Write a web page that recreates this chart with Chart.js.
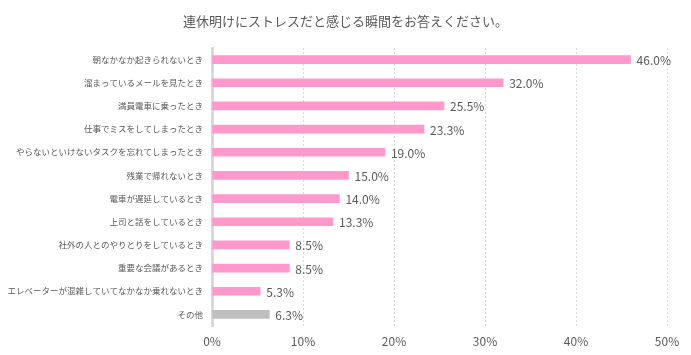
<!DOCTYPE html>
<html><head><meta charset="utf-8">
<script src="https://cdn.jsdelivr.net/npm/chart.js@4/dist/chart.umd.min.js"></script>
<style>html,body{margin:0;padding:0;background:#fff}#wrap{width:691px;height:355px}</style>
</head><body><div id="wrap"><canvas id="c" width="691" height="355"></canvas></div>
<script>
const categories = ["朝なかなか起きられないとき","溜まっているメールを見たとき","満員電車に乗ったとき","仕事でミスをしてしまったとき","やらないといけないタスクを忘れてしまったとき","残業で帰れないとき","電車が遅延しているとき","上司と話をしているとき","社外の人とのやりとりをしているとき","重要な会議があるとき","エレベーターが混雑していてなかなか乗れないとき","その他"];
const values = [46.0,32.0,25.5,23.3,19.0,15.0,14.0,13.3,8.5,8.5,5.3,6.3];
const barColors = ["#ff99cc","#ff99cc","#ff99cc","#ff99cc","#ff99cc","#ff99cc","#ff99cc","#ff99cc","#ff99cc","#ff99cc","#ff99cc","#bfbfbf"];
const titleText = "連休明けにストレスだと感じる瞬間をお答えください。";
const FONT = "'Noto Sans CJK JP', 'Noto Sans', sans-serif";

const labelPlugin = {
  id: 'valLabels',
  afterDatasetsDraw(chart) {
    const ctx = chart.ctx;
    const meta = chart.getDatasetMeta(0);
    ctx.save();
    ctx.font = "12px " + FONT;
    ctx.fillStyle = "#595959";
    ctx.textBaseline = "middle";
    ctx.textAlign = "left";
    meta.data.forEach((bar, i) => {
      ctx.fillText(values[i].toFixed(1) + "%", bar.x + 6, bar.y + 1);
    });
    ctx.restore();
  }
};

new Chart(document.getElementById('c'), {
  type: 'bar',
  data: { labels: categories, datasets: [{ data: values, backgroundColor: barColors, barThickness: 8, borderWidth: 0 }] },
  options: {
    indexAxis: 'y',
    responsive: false,
    animation: false,
    layout: { padding: 0 },
    plugins: {
      legend: { display: false },
      tooltip: { enabled: false },
      title: { display: true, text: titleText, color: "#595959", font: { family: FONT, size: 13, weight: 'normal', lineHeight: 1.2 }, padding: { top: 13, bottom: 19.4 } }
    },
    scales: {
      x: {
        min: 0, max: 50,
        ticks: { stepSize: 10, callback: v => v + "%", color: "#595959", font: { family: FONT, size: 12 }, padding: 8 },
        grid: { color: "#d9d9d9", drawTicks: false, tickLength: 0 },
        border: { display: false, dash: [2, 2] },
        afterFit(s) { s.height = 29; s.paddingRight = 24; s.paddingLeft = 0; }
      },
      y: {
        ticks: { color: "#595959", font: { family: FONT, size: 8.5 }, padding: 9, autoSkip: false },
        grid: { display: false, drawTicks: false },
        border: { display: true, color: "#d9d9d9", width: 3 },
        afterFit(s) { s.width = 212; }
      }
    }
  },
  plugins: [labelPlugin]
});
</script></body></html>
